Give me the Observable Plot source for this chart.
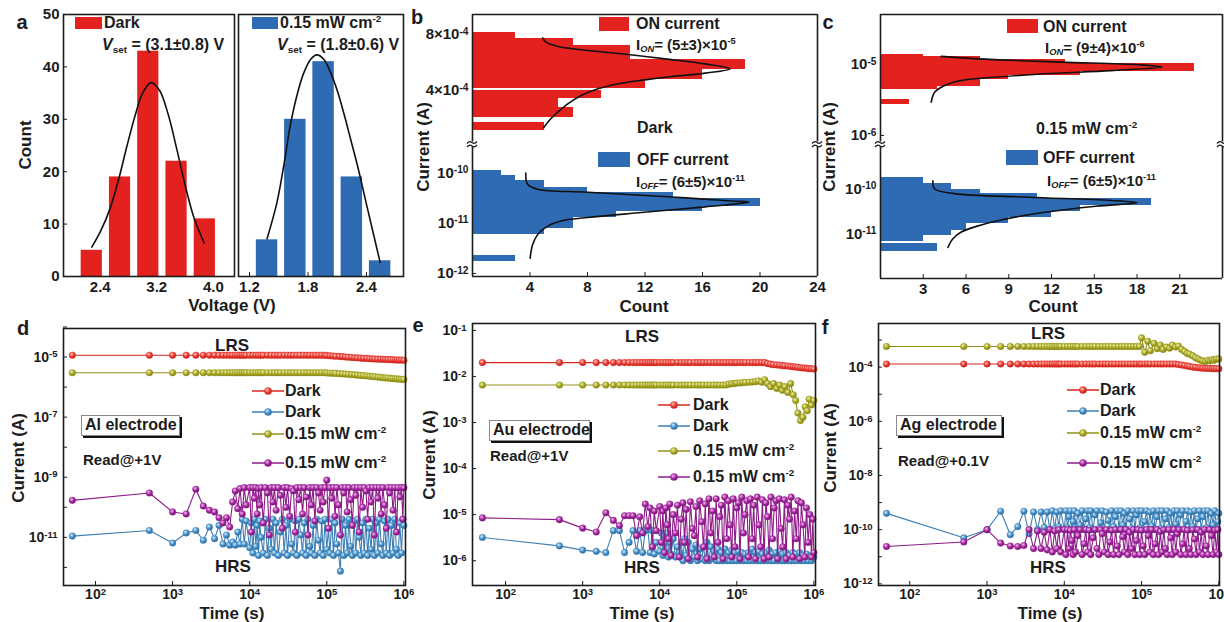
<!DOCTYPE html>
<html><head><meta charset="utf-8">
<script src="https://cdn.jsdelivr.net/npm/d3@7"></script>
<script src="https://cdn.jsdelivr.net/npm/@observablehq/plot@0.6"></script>
<style>
body{margin:0;background:#fff;}
#fig{position:relative;width:1224px;height:622px;overflow:hidden;background:#fff;font-family:"Liberation Sans",Arial,Helvetica,sans-serif;font-weight:bold;color:#1c1c1c;}
.lab{position:absolute;white-space:nowrap;line-height:1;}
.lab sup{font-size:0.62em;vertical-align:0.6em;line-height:0;}
.lab sub{font-size:0.62em;vertical-align:-0.3em;line-height:0;}
.sw{position:absolute;}
.ebox{position:absolute;box-sizing:border-box;border:1px solid #8a8a8a;box-shadow:2px 2px 0 #111;background:#fff;font-size:16px;line-height:18px;padding-left:3px;white-space:nowrap;}
</style></head>
<body><div id="fig">
<svg width="0" height="0" style="position:absolute">
<defs>
<radialGradient id="gR" cx="0.38" cy="0.35" r="0.7"><stop offset="0" stop-color="#ffc4ba"/><stop offset="0.55" stop-color="#e8372e"/><stop offset="1" stop-color="#b81d17"/></radialGradient>
<radialGradient id="gB" cx="0.38" cy="0.35" r="0.7"><stop offset="0" stop-color="#d2ecfb"/><stop offset="0.55" stop-color="#3f8cc6"/><stop offset="1" stop-color="#2a6496"/></radialGradient>
<radialGradient id="gO" cx="0.38" cy="0.35" r="0.7"><stop offset="0" stop-color="#f0f0a8"/><stop offset="0.55" stop-color="#a5a520"/><stop offset="1" stop-color="#7c7c10"/></radialGradient>
<radialGradient id="gP" cx="0.38" cy="0.35" r="0.7"><stop offset="0" stop-color="#f4b8ef"/><stop offset="0.55" stop-color="#a0229b"/><stop offset="1" stop-color="#741470"/></radialGradient>
</defs></svg>
</div>
<script>
// ---------------- DATA ----------------
// Panel a: Vset histograms (bin centre in V, count) and Gaussian fit
const aDarkV = [2.28, 2.68, 3.08, 3.48, 3.88];
const aDarkN = [5, 19, 43, 22, 11];
const aLightV = [1.38, 1.67, 1.96, 2.25, 2.54];
const aLightN = [7, 30, 41, 19, 3];
const aDarkFitV = [2.28, 2.4, 2.54, 2.66, 2.78, 2.9, 3.0, 3.12, 3.24, 3.36, 3.48, 3.6, 3.72, 3.87];
const aDarkFitN = [5.6, 8.5, 13, 18.5, 25, 31, 35, 37, 35.5, 31, 24.5, 17.5, 11.5, 6.4];
const aLightFitV = [1.38, 1.48, 1.55, 1.62, 1.70, 1.76, 1.83, 1.89, 1.96, 2.03, 2.10, 2.17, 2.24, 2.31, 2.41, 2.54];
const aLightFitN = [7.2, 14, 21, 29, 35.5, 39, 41.5, 42.3, 41.5, 39, 35.5, 31, 26, 21, 13, 2.7];
const aDarkTicks = [2.4, 3.2, 4.0];
const aLightTicks = [1.2, 1.8, 2.4];
const aCountTicks = [0, 10, 20, 30, 40, 50];

// Panel b (dark): ON / OFF current histograms (bin low, bin high in A, count)
const bOnLo = [7.68e-4, 7.18e-4, 6.19e-4, 5.48e-4, 4.76e-4, 4.11e-4, 3.41e-4, 2.76e-4, 2.09e-4, 1.14e-4];
const bOnHi = [8.11e-4, 7.68e-4, 7.18e-4, 6.19e-4, 5.48e-4, 4.76e-4, 4.00e-4, 3.41e-4, 2.76e-4, 1.74e-4];
const bOnN  = [3, 7, 11, 19, 16, 12, 9, 6, 7, 5];
const bOnFitN = [4.88, 5.11, 5.93, 7.56, 10.36, 13.39, 16.19, 17.94, 16.19, 13.86, 11.99, 10.12, 8.73, 7.56, 6.63, 5.93, 5.34, 4.95];
const bOnFitI = [7.76e-4, 7.45e-4, 7.14e-4, 6.91e-4, 6.62e-4, 6.26e-4, 5.90e-4, 5.55e-4, 5.24e-4, 5.0e-4, 4.76e-4, 4.48e-4, 4.12e-4, 3.64e-4, 3.05e-4, 2.45e-4, 1.86e-4, 1.34e-4];
const bOffLo = [8.9e-11, 6.9e-11, 5.2e-11, 4.1e-11, 3.1e-11, 2.1e-11, 1.7e-11, 1.29e-11, 7.8e-12, 5.9e-12, 1.7e-12];
const bOffHi = [1.10e-10, 8.9e-11, 6.9e-11, 5.2e-11, 4.1e-11, 3.1e-11, 2.1e-11, 1.7e-11, 1.29e-11, 7.8e-12, 2.3e-12];
const bOffN  = [2, 3, 5, 8, 14, 20, 16, 10, 7, 5, 3];
const bOffFitN = [3.71, 3.83, 4.53, 8.03, 13.86, 18.05, 19.22, 16.19, 11.53, 8.03, 6.16, 5.23, 4.53, 4.18, 4.01];
const bOffFitI = [9.8e-11, 5.9e-11, 4.7e-11, 4.1e-11, 3.3e-11, 2.75e-11, 2.6e-11, 2.1e-11, 1.6e-11, 1.29e-11, 1.1e-11, 8.7e-12, 5.9e-12, 3.7e-12, 2.0e-12];
const bOnTicks = [4e-4, 8e-4];
const bOffTicks = [1e-12, 1e-11, 1e-10];
const bCountTicks = [4, 8, 12, 16, 20, 24];

// Panel c (0.15 mW cm-2)
const cOnLo = [1.28e-5, 1.16e-5, 1.02e-5, 8.05e-6, 7.0e-6, 6.1e-6, 4.9e-6, 4.4e-6, 2.7e-6];
const cOnHi = [1.38e-5, 1.28e-5, 1.16e-5, 1.02e-5, 8.05e-6, 7.0e-6, 6.1e-6, 4.9e-6, 3.2e-6];
const cOnN  = [3, 7, 13, 22, 14, 9, 7, 4, 2];
const cOnFitN = [4.26, 6.85, 12.7, 18.1, 19.75, 16.2, 11.5, 8.0, 5.67, 4.5, 3.8, 3.56];
const cOnFitI = [1.30e-5, 1.20e-5, 1.08e-5, 9.9e-6, 9.2e-6, 8.2e-6, 7.4e-6, 6.6e-6, 5.96e-6, 5.06e-6, 4.07e-6, 2.94e-6];
const cOffLo = [1.33e-10, 9.5e-11, 7.7e-11, 6.0e-11, 4.3e-11, 3.2e-11, 2.34e-11, 1.72e-11, 1.18e-11, 9.2e-12, 6.9e-12, 4.1e-12];
const cOffHi = [1.81e-10, 1.33e-10, 9.5e-11, 7.7e-11, 6.0e-11, 4.3e-11, 3.2e-11, 2.34e-11, 1.72e-11, 1.18e-11, 9.2e-12, 6.0e-12];
const cOffN  = [3, 5, 7, 11, 19, 14, 12, 9, 6, 5, 3, 4];
const cOffFitN = [3.68, 3.79, 5.2, 10.4, 16.2, 18.0, 15.1, 11.5, 8.7, 6.85, 5.67, 5.08, 4.73];
const cOffFitI = [1.51e-10, 1.0e-10, 7.8e-11, 6.5e-11, 5.5e-11, 4.9e-11, 4.1e-11, 3.0e-11, 2.1e-11, 1.5e-11, 1.1e-11, 7.8e-12, 5.0e-12];
const cOnTicks = [1e-6, 1e-5];
const cOffTicks = [1e-11, 1e-10];
const cCountTicks = [3, 6, 9, 12, 15, 18, 21];

// Panels d-f: retention. Read times (s) of the LRS traces
const T = [50, 500, 1000, 1500, 2000, 2500, 3000, 3500, 4000, 4500,
  5000, 5500, 6000, 6500, 7000, 7500, 8000, 8500, 9000, 10000,
  11000, 12000, 13000, 14000, 15000, 17000, 19000, 21000, 23000, 25000,
  28000, 31000, 34000, 37000, 41000, 45000, 50000, 55000, 60000, 66000,
  72000, 79000, 86000, 94000, 100000, 110000, 120000, 130000, 145000, 160000,
  175000, 190000, 210000, 230000, 250000, 275000, 300000, 330000, 360000, 390000,
  420000, 460000, 500000, 540000, 580000, 620000, 670000, 720000, 770000, 820000,
  870000, 930000, 1000000];
// Read times (s) of the HRS traces (denser, they scatter)
const T2 = [50, 500, 1000, 1500, 2000, 2500, 3000, 3500, 4000, 4500,
  5000, 5500, 6000, 6500, 7000, 7500, 8000, 8500, 9000, 10000,
  10500, 11000, 11500, 12000, 12500, 13000, 13500, 14000, 15000, 16000,
  17000, 18000, 19000, 20000, 21000, 22000, 23500, 25000, 26500, 28000,
  29500, 31000, 33000, 35000, 37000, 39000, 41000, 43500, 46000, 48500,
  51000, 54000, 57000, 60000, 63000, 66500, 70000, 74000, 78000, 82000,
  86000, 90000, 95000, 100000, 105000, 110000, 116000, 122000, 128000, 135000,
  142000, 150000, 158000, 166000, 175000, 184000, 194000, 204000, 215000, 226000,
  238000, 250000, 263000, 277000, 291000, 306000, 322000, 339000, 356000, 375000,
  394000, 415000, 436000, 459000, 483000, 508000, 534000, 562000, 591000, 622000,
  654000, 688000, 724000, 762000, 801000, 843000, 887000, 933000, 970000, 1000000];
const timeTicks = [1e2, 1e3, 1e4, 1e5, 1e6];

// d: Al electrode
const dDarkLRS_1e5 = [1.15,1.15,1.15,1.15,1.15,1.15,1.15,1.15,1.15,1.15, 1.15,1.15,1.15,1.15,1.15,1.15,1.15,1.15,1.15,1.15,
  1.15,1.15,1.15,1.15,1.15,1.15,1.15,1.15,1.15,1.15, 1.15,1.15,1.15,1.15,1.15,1.15,1.15,1.15,1.15,1.15, 1.15,1.15,1.15,1.15,
  1.12,1.1,1.08,1.06,1.05,1.03,1.0,0.98,0.97,0.95, 0.94,0.92,0.9,0.9,0.88,0.87,0.86,0.85,0.84,0.84, 0.83,0.82,0.82,0.81,0.8,0.8,0.79,0.79,0.78];
const dLightLRS_1e6 = [3,3,3,3,3,3,3,3,3,3, 3,3,3,3,3,3,3,3,3,3, 3,3,3,3,3,3,3,3,3,3, 3,3,3,3,3,3,3,3,3,3, 3,3,3,3,
  2.95,2.9,2.9,2.85,2.8,2.75,2.7,2.65,2.6,2.55, 2.5,2.45,2.4,2.35,2.3,2.25,2.2,2.15,2.1,2.05, 2.0,2.0,1.95,1.9,1.9,1.85,1.85,1.8,1.8];
const dDarkHRS_1e11 = [1.1,1.7,0.65,1.4,1.7,0.8,2.2,0.9,2.5,0.6, 1.2,0.55,0.7,0.55,1.5,0.6,4.0,0.6,3.5,0.45,
  3.0,0.3,4.0,0.5,2.5,0.25,3.5,1.0,0.3,4.0, 0.25,2.0,0.4,4.0,0.3,3.0,0.25,1.5,4.0,0.3,
  2.5,0.25,4.0,0.6,0.3,3.5,0.25,4.0,1.2,0.3, 3.0,0.25,4.0,0.5,0.3,2.5,0.25,4.0,0.8,0.3,
  3.5,0.25,4.0,0.4,2.0,0.3,4.0,0.25,3.0,0.6, 0.3,0.075,4.0,0.25,2.5,0.3,4.0,0.5,0.25,3.5,
  0.3,4.0,1.0,0.25,3.0,0.3,4.0,0.25,2.0,0.4, 4.0,0.25,3.0,0.3,4.0,0.6,0.25,3.5,0.3,4.0,
  0.25,2.5,0.3,4.0,0.4,0.25,3.0,0.3,4.0,2.5];
const dLightHRS_1e10 = [1.7,3.0,0.7,0.6,4.0,1.1,0.8,0.7,0.45,0.3, 0.45,0.22,1.5,3.5,0.9,4.2,0.6,4.5,1.2,4.5,
  0.15,4.5,2.0,4.5,0.6,4.2,1.2,4.5,0.3,4.5, 3.0,0.12,4.5,1.5,4.5,0.8,4.5,2.5,0.2,4.5,
  1.0,4.5,0.5,4.2,3.5,0.15,4.5,1.8,4.5,0.6, 4.5,2.2,0.12,4.5,1.2,4.5,0.35,4.5,3.0,0.8,
  4.5,1.5,4.5,8.0,0.2,4.5,2.0,4.5,0.5,4.5, 1.2,0.12,4.5,3.0,4.5,0.7,4.5,1.8,0.25,4.5,
  2.5,4.5,0.15,4.5,1.0,4.5,3.5,0.4,4.5,1.5, 4.5,0.12,4.5,2.0,4.5,0.6,4.5,1.2,0.2,4.5,
  3.0,4.5,0.8,4.5,0.15,4.5,2.2,4.5,0.4,4.5];
const dYTicks = [1e-12, 1e-11, 1e-10, 1e-9, 1e-8, 1e-7, 1e-6, 1e-5, 1e-4];

// e: Au electrode
const eDarkLRS_1e2 = [2,2,2,2,2,2,2,2,2,2, 2,2,2,2,2,2,2,2,2,2, 2,2,2,2,2,2,2,2,2,2, 2,2,2,2,2,2,2,2,2,2, 2,2,2,2,2,2,2,2,2,2, 2,2,2,2,
  1.9,1.85,1.8,1.78,1.75,1.72,1.7,1.68,1.65,1.62,1.6,1.58,1.55,1.53,1.52,1.5,1.48,1.47,1.45];
const eLightLRS_1e3 = [6.5,6.5,6.5,6.5,6.5,6.5,6.5,6.5,6.5,6.5, 6.5,6.5,6.5,6.5,6.5,6.5,6.5,6.5,6.5,6.5,
  6.5,6.5,6.5,6.5,6.5,6.5,6.5,6.5,6.5,6.5, 6.5,6.5,6.5,6.5,6.5,6.5,6.5,6.5,6.5,6.5, 6.5,
  6.8,7.0,7.0,7.2,7.2,7.4,7.4,7.5,7.6,7.7,
  8.0,7.5,8.5,7.0,6.0,7.0,5.5,6.5,5.0,6.0,4.5,7.0,4.0,3.0,1.6,1.1,1.3,2.2,1.8,3.2,2.4,3.0];
const eDarkHRS_1e6 = [3.2,2.1,1.7,1.6,1.5,4.5,4.5,1.5,2.5,4.5, 1.6,4.5,1.5,4.5,4.8,1.5,4.5,1.4,2.5,1.6,
  4.0,1.3,3.5,1.5,4.0,1.2,2.5,1.4,3.0,1.2, 2.0,1.5,2.5,1.0,3.0,1.3,2.5,1.0,1.8,1.2,
  2.2,1.0,1.8,1.1,2.0,1.0,2.5,1.0,2.0,1.1, 1.6,1.0,1.8,1.0,1.5,1.0,1.8,1.0,1.5,1.0,
  1.7,1.0,1.5,1.0,1.6,1.0,1.5,1.0,1.4,1.0, 1.5,1.0,1.8,1.0,1.5,1.0,1.6,1.0,1.4,1.0,
  1.5,1.0,1.7,1.0,1.4,1.0,1.5,1.0,1.6,1.0, 1.4,1.0,1.5,1.0,1.3,1.0,1.5,1.0,1.4,1.0,
  1.5,1.0,1.3,1.0,1.4,1.0,1.2,1.0,1.3,1.2];
const eLightHRS_1e6 = [8.5,7.8,5.1,4.2,11,7.5,5.8,9.5,9.5,9.5, 3.5,9.0,4.0,17,5.5,14,2.0,12,4.5,15,
  2.5,12,1.5,14,6.0,3.0,17,1.3,10,4.0, 16,1.2,8.0,18,2.5,13,1.1,19,5.0,3.5,
  15,1.2,20,7.0,2.0,17,1.1,22,4.0,12, 1.2,22,2.5,9.0,16,1.1,24,3.0,20,6.0,
  1.2,22,2.0,14,18,1.1,24,4.0,10,20, 1.2,22,3.0,16,1.1,24,6.0,2.0,21,1.1,
  18,9.0,1.2,24,3.0,14,20,1.1,22,5.0, 2.0,21,1.1,16,8.0,24,1.2,12,3.0,20,
  1.1,18,6.0,1.2,14,2.5,10,1.2,8.0,1.5];
const eYTicks = [1e-6, 1e-5, 1e-4, 1e-3, 1e-2, 1e-1];

// f: Ag electrode
const fDarkLRS_1e4 = [1.3,1.3,1.3,1.3,1.3,1.3,1.3,1.3,1.3,1.3, 1.3,1.3,1.3,1.3,1.3,1.3,1.3,1.3,1.3,1.3,
  1.3,1.3,1.3,1.3,1.3,1.3,1.3,1.3,1.3,1.3, 1.3,1.3,1.3,1.3,1.3,1.3,1.3,1.3,1.3,1.3,
  1.3,1.3,1.3,1.3,1.3,1.3,1.3,1.3,1.3,1.3, 1.3,1.3,1.3,1.3,1.3,1.3,
  1.25,1.2,1.15,1.1,1.05,1.0,0.98,0.95,0.93,0.92,0.9,0.9,0.89,0.88,0.88,0.87,0.87];
const fLightLRS_1e4 = [5.8,5.8,5.8,5.8,5.8,5.8,5.8,5.8,5.8,5.8, 5.8,5.8,5.8,5.8,5.8,5.8,5.8,5.8,5.8,5.8,
  5.8,5.8,5.8,5.8,5.8,5.8,5.8,5.8,5.8,5.8, 5.8,5.8,5.8,5.8,5.8,5.8,5.8,5.8,5.8,5.8, 5.8,5.8,5.8,5.8,
  12,3.5,9.0,4.0,7.5,4.8,6.5,4.5,5.5,5.0, 6.5,5.5,6.0,4.5,3.8,3.2,3.0,2.6,2.2,2.0, 1.8,1.7,1.6,1.8,1.7,1.9,1.8,2.0,2.0];
const fDarkHRS_1e10 = [4.0,0.5,1.0,4.8,0.65,1.3,4.8,0.7,4.5,1.0, 4.5,1.2,4.5,1.0,5.0,1.1,4.5,1.3,5.0,1.0,
  5.0,1.2,3.0,5.0,1.0,2.0,5.0,1.1,4.0,1.5, 5.0,1.0,2.5,5.0,1.2,5.0,1.0,3.5,5.0,1.1,
  1.8,5.0,1.0,4.5,2.2,1.0,5.0,1.3,3.0,5.0, 1.0,5.0,1.5,4.0,1.0,5.0,2.5,1.1,5.0,1.0,
  3.5,5.0,1.2,5.0,1.0,2.0,5.0,1.0,4.5,1.4, 5.0,1.0,3.0,5.0,1.1,5.0,1.0,2.5,5.0,1.2,
  4.0,1.0,5.0,1.6,5.0,1.0,3.5,5.0,1.1,2.0, 5.0,1.0,4.5,1.3,5.0,1.0,2.5,5.0,1.0,3.0,
  5.0,1.2,5.0,1.0,4.0,1.5,5.0,1.0,2.0,4.0];
const fLightHRS_1e11 = [2.4,3.5,10,3.2,2.5,2.4,2.6,10,2.0,9.0, 2.0,8.0,1.8,10,1.5,9.0,2.0,10,1.5,10,
  1.2,10,2.0,9.5,4.0,1.2,10,1.5,6.0,10, 1.2,3.0,10,1.5,9.5,1.2,5.0,10,2.0,1.2,
  10,7.0,1.5,10,1.2,3.5,9.5,1.2,10,2.5, 1.2,10,5.5,1.5,10,1.2,8.0,2.0,10,1.2,
  4.0,10,1.2,9.5,2.5,1.2,10,6.0,1.5,10, 1.2,3.0,10,1.2,8.5,1.5,10,2.0,1.2,10,
  5.0,1.2,10,1.5,7.0,10,1.2,3.0,10,1.2, 9.5,2.0,1.2,10,4.5,1.2,10,1.5,8.0,1.2,
  10,2.5,1.2,10,6.0,1.2,9.5,1.5,10,1.2];
const fYTicks = [1e-12, 1e-11, 1e-10, 1e-9, 1e-8, 1e-7, 1e-6, 1e-5, 1e-4, 1e-3];

// ---------------- STYLE ----------------
const FONT = "'Liberation Sans', Arial, Helvetica, sans-serif";
const INK = "#1c1c1c";
const RED = "#e3221f", BLUE = "#2e6bb2";
const TS = {
  red:    {line: "#d8271f", grad: "url(#gR)"},
  blue:   {line: "#3f7fb4", grad: "url(#gB)"},
  olive:  {line: "#8f8f14", grad: "url(#gO)"},
  purple: {line: "#8e1b8a", grad: "url(#gP)"}
};
const fig = document.getElementById("fig");

function supify(svg) {
  svg.querySelectorAll("text").forEach(t => {
    const s = t.textContent;
    const i = s.indexOf("^");
    if (i < 0) return;
    while (t.firstChild) t.removeChild(t.firstChild);
    const a = document.createElementNS("http://www.w3.org/2000/svg", "tspan");
    a.textContent = s.slice(0, i);
    const b = document.createElementNS("http://www.w3.org/2000/svg", "tspan");
    b.textContent = s.slice(i + 1);
    b.setAttribute("dy", "-0.45em");
    b.style.fontSize = "0.68em";
    t.appendChild(a); t.appendChild(b);
  });
}

function panel(L, R, Tp, B, opts, fontSize = 15) {
  const mL = 70, mR = 12, mT = 12, mB = 40;
  const svg = Plot.plot({
    width: R - L + mL + mR, height: B - Tp + mT + mB,
    marginLeft: mL, marginRight: mR, marginTop: mT, marginBottom: mB,
    style: {background: "transparent", overflow: "visible", fontFamily: FONT, fontWeight: "bold",
            fontSize: fontSize + "px", color: INK, maxWidth: "none"},
    ...opts
  });
  supify(svg);
  svg.style.position = "absolute";
  svg.style.left = (L - mL) + "px";
  svg.style.top = (Tp - mT) + "px";
  fig.appendChild(svg);
}

const pow10 = d => "10^" + Math.round(Math.log10(d));
const zip2 = (a, b, ka, kb) => a.map((v, i) => ({[ka]: v, [kb]: b[i]}));
const bins = (lo, hi, n) => lo.map((v, i) => ({lo: v, hi: hi[i], n: n[i]}));
const frameStroke = {stroke: INK, strokeWidth: 1.6};
const fitStyle = {stroke: "#111", strokeWidth: 1.6, curve: "catmull-rom"};
const xAx = {tickSize: -4, tickPadding: 9, label: null};
const yAx = {tickSize: -4, tickPadding: 8, label: null};

// ---------------- PANEL a ----------------
panel(63, 234, 14, 276, {
  x: {domain: [1.88, 4.30], ticks: aDarkTicks, tickFormat: d => d.toFixed(1), ...xAx},
  y: {domain: [0, 50], ticks: aCountTicks, ...yAx},
  marks: [
    Plot.rect(zip2(aDarkV, aDarkN, "v", "n"), {x1: d => d.v - 0.15, x2: d => d.v + 0.15, y1: () => 0, y2: "n", fill: RED}),
    Plot.line(zip2(aDarkFitV, aDarkFitN, "v", "n"), {x: "v", y: "n", ...fitStyle}),
    Plot.frame(frameStroke)
  ]
});
panel(238, 403, 14, 276, {
  x: {domain: [1.087, 2.78], ticks: aLightTicks, tickFormat: d => d.toFixed(1), ...xAx},
  y: {domain: [0, 50], axis: null},
  marks: [
    Plot.rect(zip2(aLightV, aLightN, "v", "n"), {x1: d => d.v - 0.11, x2: d => d.v + 0.11, y1: () => 0, y2: "n", fill: BLUE}),
    Plot.line(zip2(aLightFitV, aLightFitN, "v", "n"), {x: "v", y: "n", ...fitStyle}),
    Plot.frame(frameStroke)
  ]
});

// ---------------- PANEL b / c (broken axis: two stacked segments) ----------------
function histSegment(L, R, Tp, B, yOpts, data, fit, color, xTicks, isTop) {
  const yDom = yOpts.domain;
  panel(L, R, Tp, B, {
    x: xTicks ? {domain: [0, 24], ticks: xTicks, ...xAx} : {domain: [0, 24], axis: null},
    y: {...yOpts, ...yAx},
    marks: [
      Plot.rect(data, {x1: () => 0, x2: "n", y1: "lo", y2: "hi", fill: color, shapeRendering: "crispEdges"}),
      Plot.line(fit, {x: "n", y: "i", ...fitStyle}),
      Plot.ruleX([0, 24], frameStroke),
      Plot.ruleY([isTop ? yDom[1] : yDom[0]], frameStroke)
    ]
  });
}
histSegment(472, 817, 14, 144,
  {domain: [1.4e-5, 9.43e-4], ticks: bOnTicks, tickFormat: d => Math.round(d / 1e-4) + "×10^-4"},
  bins(bOnLo, bOnHi, bOnN), zip2(bOnFitN, bOnFitI, "n", "i"), RED, null, true);
histSegment(472, 817, 144, 276,
  {type: "log", domain: [8.7e-13, 3.63e-10], ticks: bOffTicks, tickFormat: pow10},
  bins(bOffLo, bOffHi, bOffN), zip2(bOffFitN, bOffFitI, "n", "i"), BLUE, bCountTicks, false);
histSegment(880, 1222, 14, 144,
  {type: "log", domain: [7.46e-7, 5.06e-5], ticks: cOnTicks, tickFormat: pow10},
  bins(cOnLo, cOnHi, cOnN), zip2(cOnFitN, cOnFitI, "n", "i"), RED, null, true);
histSegment(880, 1222, 144, 278,
  {type: "log", domain: [1.02e-12, 9.6e-10], ticks: cOffTicks, tickFormat: pow10},
  bins(cOffLo, cOffHi, cOffN), zip2(cOffFitN, cOffFitI, "n", "i"), BLUE, cCountTicks, false);

// ---------------- PANELS d, e, f ----------------
function series(times, vals, scale, c, r = 3.3) {
  const data = times.map((t, i) => ({t, v: vals[i] * scale}));
  return [
    Plot.line(data, {x: "t", y: "v", stroke: TS[c].line, strokeWidth: 1.1}),
    Plot.dot(data, {x: "t", y: "v", r, fill: TS[c].grad, stroke: TS[c].line, strokeWidth: 0.4})
  ];
}
function retention(L, R, Tp, B, xDom, yDom, yTicks, yFmt, S) {
  panel(L, R, Tp, B, {
    x: {type: "log", domain: xDom, ticks: timeTicks, tickFormat: pow10, tickSize: -4, tickPadding: 8, label: null},
    y: {type: "log", domain: yDom, ticks: yTicks, tickFormat: yFmt, tickSize: -4, tickPadding: 10, label: null},
    marks: [...S, Plot.frame(frameStroke)]
  }, 14);
}
retention(63, 405, 328, 585, [38.4, 1.05e6], [2.5e-13, 8.9e-5], dYTicks,
  d => { const e = Math.round(Math.log10(d)); return e % 2 ? "10^" + e : ""; },
  [...series(T, dDarkLRS_1e5, 1e-5, "red"), ...series(T, dLightLRS_1e6, 1e-6, "olive"),
   ...series(T2, dDarkHRS_1e11, 1e-11, "blue"), ...series(T2, dLightHRS_1e10, 1e-10, "purple")]);
retention(472, 815, 323, 585, [37.2, 1.05e6], [2.9e-7, 0.141], eYTicks, pow10,
  [...series(T, eDarkLRS_1e2, 1e-2, "red"), ...series(T, eLightLRS_1e3, 1e-3, "olive"),
   ...series(T2, eDarkHRS_1e6, 1e-6, "blue"), ...series(T2, eLightHRS_1e6, 1e-6, "purple")]);
retention(878, 1219, 323, 585, [39.4, 1.02e6], [8.7e-13, 4.07e-3], fYTicks,
  d => { const e = Math.round(Math.log10(d)); return e % 2 ? "" : "10^" + e; },
  [...series(T, fDarkLRS_1e4, 1e-4, "red"), ...series(T, fLightLRS_1e4, 1e-4, "olive"),
   ...series(T2, fDarkHRS_1e10, 1e-10, "blue"), ...series(T2, fLightHRS_1e11, 1e-11, "purple")]);

// ---------------- TEXT / LEGENDS ----------------
function label(html, x, y, o = {}) {
  const el = document.createElement("div");
  el.className = "lab";
  el.innerHTML = html;
  el.style.left = x + "px"; el.style.top = y + "px";
  el.style.fontSize = (o.size || 16) + "px";
  const tx = o.align === "center" ? "-50%" : "0";
  el.style.transform = `translate(${tx},-50%)` + (o.rotate ? ` rotate(${o.rotate}deg)` : "");
  fig.appendChild(el);
}
function swatch(x, y, w, h, c) {
  const el = document.createElement("div");
  el.className = "sw";
  Object.assign(el.style, {left: x + "px", top: y + "px", width: w + "px", height: h + "px", background: c});
  fig.appendChild(el);
}
function ebox(text, x, y, w, h) {
  const el = document.createElement("div");
  el.className = "ebox"; el.textContent = text;
  Object.assign(el.style, {left: x + "px", top: y + "px", width: w + "px", height: h + "px"});
  fig.appendChild(el);
}
function brk(x, y) {
  fig.insertAdjacentHTML("beforeend",
    `<svg width="12" height="12" style="position:absolute;left:${x - 6}px;top:${y - 6}px"><rect x="2" y="3.5" width="8" height="5" fill="#fff"/><path d="M1 5.5 Q3.5 2.5 6 4.5 T11 3.5 M1 9 Q3.5 6 6 8 T11 7" fill="none" stroke="${INK}" stroke-width="1.2"/></svg>`);
}
function tsLegend(x, ys, tx) {
  const entries = [["red", "Dark"], ["blue", "Dark"], ["olive", "0.15 mW cm<sup>-2</sup>"], ["purple", "0.15 mW cm<sup>-2</sup>"]];
  entries.forEach(([c, text], i) => {
    fig.insertAdjacentHTML("beforeend",
      `<svg width="32" height="10" style="position:absolute;left:${x}px;top:${ys[i] - 5}px;overflow:visible"><line x1="0" y1="5" x2="32" y2="5" stroke="${TS[c].line}" stroke-width="1.5"/><circle cx="16" cy="5" r="3.6" fill="${TS[c].grad}" stroke="${TS[c].line}" stroke-width="0.4"/></svg>`);
    label(text, tx, ys[i], {size: 16});
  });
}
const C = {align: "center"};
// a
label("a", 22, 22, {size: 20, ...C});
label("Count", 25, 145, {size: 17, ...C, rotate: -90});
label("Voltage (V)", 232, 305, {size: 17, ...C});
swatch(75, 17, 27, 12, RED); label("Dark", 104, 23, {size: 16});
label("<i>V</i><sub>set</sub> = (3.1±0.8) V", 102, 45, {size: 16});
swatch(252, 17, 26, 12, BLUE); label("0.15 mW cm<sup>-2</sup>", 280, 23, {size: 16});
label("<i>V</i><sub>set</sub> = (1.8±0.6) V", 277, 45, {size: 16});
// b
label("b", 417, 17, {size: 20, ...C});
label("Current (A)", 423, 147, {size: 17, ...C, rotate: -90});
label("Count", 644, 306, {size: 17, ...C});
swatch(599, 17, 30, 14, RED); label("ON current", 636, 24, {size: 16});
label("I<sub><i>ON</i></sub>= (5±3)×10<sup>-5</sup>", 636, 44, {size: 15});
label("Dark", 637, 128, {size: 16});
swatch(598, 152, 32, 15, BLUE); label("OFF current", 637, 160, {size: 16});
label("I<sub><i>OFF</i></sub>= (6±5)×10<sup>-11</sup>", 636, 181, {size: 15});
brk(472, 144); brk(817, 144);
// c
label("c", 828, 22, {size: 20, ...C});
label("Current (A)", 829, 147, {size: 17, ...C, rotate: -90});
label("Count", 1053, 306, {size: 17, ...C});
swatch(1007, 19, 31, 14, RED); label("ON current", 1043, 27, {size: 16});
label("I<sub><i>ON</i></sub>= (9±4)×10<sup>-6</sup>", 1045, 47, {size: 15});
label("0.15 mW cm<sup>-2</sup>", 1036, 129, {size: 16});
swatch(1006, 150, 32, 15, BLUE); label("OFF current", 1043, 158, {size: 16});
label("I<sub><i>OFF</i></sub>= (6±5)×10<sup>-11</sup>", 1047, 180, {size: 15});
brk(880, 144); brk(1222, 144);
// d
label("d", 23, 328, {size: 20, ...C});
label("Current (A)", 18, 458, {size: 17, ...C, rotate: -90});
label("Time (s)", 232, 613, {size: 17, ...C});
label("LRS", 232, 345, {size: 17, ...C});
label("HRS", 233, 566, {size: 17, ...C});
tsLegend(252, [390.7, 411.7, 434.3, 463.3], 285);
ebox("Al electrode", 81, 415, 99, 21);
label("Read@+1V", 83, 459, {size: 15});
// e
label("e", 418, 325, {size: 20, ...C});
label("Current (A)", 429, 455, {size: 17, ...C, rotate: -90});
label("Time (s)", 642, 613, {size: 17, ...C});
label("LRS", 642, 336, {size: 17, ...C});
label("HRS", 642, 567, {size: 17, ...C});
tsLegend(658, [405, 426, 451, 477], 693);
ebox("Au electrode", 489, 420, 101, 21);
label("Read@+1V", 490, 455, {size: 15});
// f
label("f", 825, 327, {size: 20, ...C});
label("Current (A)", 830, 448, {size: 17, ...C, rotate: -90});
label("Time (s)", 1050, 613, {size: 17, ...C});
label("LRS", 1048, 333, {size: 17, ...C});
label("HRS", 1048, 567, {size: 17, ...C});
tsLegend(1067, [390, 411, 433, 463], 1100);
ebox("Ag electrode", 896, 415, 106, 21);
label("Read@+0.1V", 898, 460, {size: 15});
</script>
</body></html>
